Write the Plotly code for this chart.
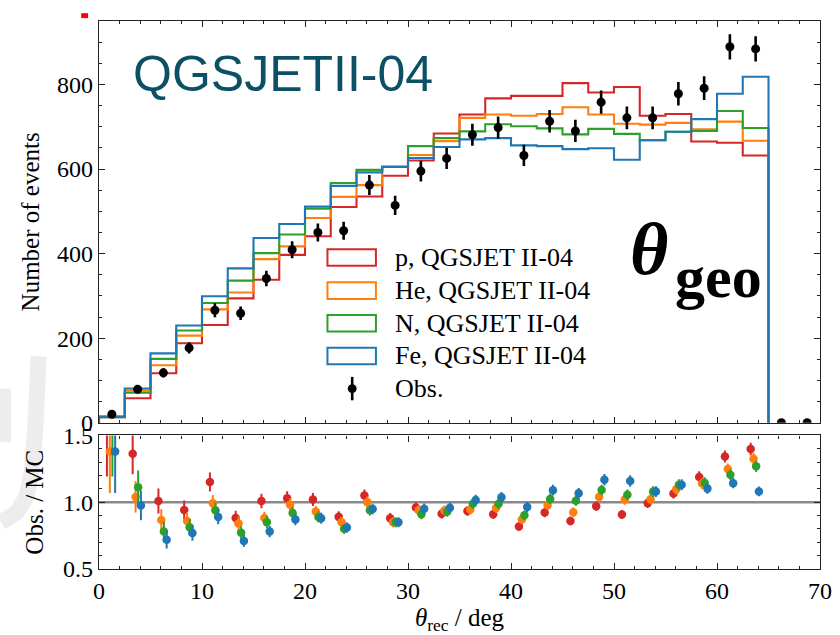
import numpy as np
import plotly.graph_objects as go

# ---------------- data ----------------
bin_edges = [0, 2.5, 5, 7.5, 10, 12.5, 15, 17.5, 20, 22.5, 25, 27.5, 30, 32.5,
             35, 37.5, 40, 42.5, 45, 47.5, 50, 52.5, 55, 57.5, 60, 62.5, 65]
obs_centers = [1.25, 3.75, 6.25, 8.75, 11.25, 13.75, 16.25, 18.75, 21.25, 23.75,
               26.25, 28.75, 31.25, 33.75, 36.25, 38.75, 41.25, 43.75, 46.25, 48.75,
               51.25, 53.75, 56.25, 58.75, 61.25, 63.75, 66.25, 68.75]
obs_counts = [20, 79, 118, 177, 266, 259, 341, 409, 450, 454, 562, 514, 595, 625,
              681, 698, 632, 713, 690, 758, 721, 721, 778, 791, 889, 884, 0, 0]
obs_errors = [4.5, 8.9, 10.9, 13.3, 16.3, 16.1, 18.5, 20.2, 21.2, 21.3, 23.7, 22.7,
              24.4, 25.0, 26.1, 26.4, 25.1, 26.7, 26.3, 27.5, 26.9, 26.9, 27.9, 28.1,
              29.8, 29.7, 0, 0]

mc_p = [13, 58, 117, 188, 231, 294, 338, 397, 441, 510, 535, 584, 620, 684,
        729, 767, 773, 773, 803, 781, 794, 726, 730, 665, 662, 632]
mc_he = [14.5, 76, 136, 206, 268, 308, 387, 417, 484, 534, 562, 605, 633, 666,
         721, 729, 726, 730, 746, 729, 707, 705, 709, 694, 712, 667]
mc_n = [13, 71, 151, 218, 283, 336, 401, 445, 506, 567, 598, 605, 654, 673,
        689, 706, 701, 696, 682, 695, 683, 668, 688, 690, 737, 697]
mc_fe = [14.5, 81, 164, 230, 299, 365, 437, 470, 511, 560, 592, 605, 626, 652,
         670, 673, 656, 654, 647, 649, 622, 668, 688, 718, 778, 818]

series_names = ["p, QGSJET II-04", "He, QGSJET II-04", "N, QGSJET II-04", "Fe, QGSJET II-04"]
series_values = [mc_p, mc_he, mc_n, mc_fe]
series_colors = ["#d62728", "#ff7f0e", "#2ca02c", "#1f77b4"]
ratio_offsets = [-0.48, -0.2, 0.05, 0.32]

x_ticks = [0, 10, 20, 30, 40, 50, 60, 70]
y_ticks_top = [0, 200, 400, 600, 800]
y_ticks_ratio = [0.5, 1.0, 1.5]

# ---------------- layout geometry (pixels) ----------------
W, H = 840, 635
L, R, T, B = 99, 828, 8, 570
TOP_BOTTOM_PX = 420
RATIO_TOP_PX = 433


def px(x):
    return (x - L) / (R - L)


def py(y):
    return (B - y) / (B - T)


SERIF = "Liberation Serif"
TICK_SIZE = 24
TITLE_SIZE = 25
LEG_SIZE = 26

fig = go.Figure()

# histograms (step)
n_mc = len(bin_edges) - 1
for name, vals, col in zip(series_names, series_values, series_colors):
    xs = [bin_edges[0]] + bin_edges[:-1] + [bin_edges[-1]]
    ys = [0] + list(vals) + [0]
    fig.add_trace(go.Scatter(x=xs, y=ys, mode="lines", line=dict(color=col, width=2.1, shape="hv"),
                             name=name, showlegend=False, xaxis="x", yaxis="y",
                             hoverinfo="skip"))

# observed points
fig.add_trace(go.Scatter(x=obs_centers, y=obs_counts, mode="markers",
                         marker=dict(color="black", size=9),
                         error_y=dict(type="data", array=obs_errors, visible=True,
                                      color="black", thickness=2.6, width=0),
                         name="Obs.", showlegend=False, xaxis="x", yaxis="y"))

# ratio points
obs_arr = np.array(obs_counts[:n_mc], dtype=float)
err_arr = np.array(obs_errors[:n_mc], dtype=float)
cent_arr = np.array(obs_centers[:n_mc], dtype=float)
for name, vals, col, off in zip(series_names, series_values, series_colors, ratio_offsets):
    mc = np.array(vals, dtype=float)
    fig.add_trace(go.Scatter(x=cent_arr + off, y=obs_arr / mc, mode="markers",
                             marker=dict(color=col, size=8.5),
                             error_y=dict(type="data", array=err_arr / mc, visible=True,
                                          color=col, thickness=2, width=0),
                             showlegend=False, xaxis="x2", yaxis="y2"))

axis_common = dict(showline=True, linecolor="#222", linewidth=1.3, mirror="allticks",
                   ticks="inside", ticklen=6, tickwidth=1.1, tickcolor="#222",
                   showgrid=False, zeroline=False,
                   tickfont=dict(family=SERIF, size=TICK_SIZE, color="black"))
minor_common = dict(ticks="inside", ticklen=3, tickcolor="#222", tickwidth=1)

fig.update_layout(
    width=W, height=H,
    margin=dict(l=L, r=W - R, t=T, b=H - B),
    paper_bgcolor="white", plot_bgcolor="white",
    showlegend=False,
    xaxis=dict(domain=[0, 1], range=[0, 70], anchor="y", matches="x2",
               tickvals=x_ticks, showticklabels=False,
               minor=dict(dtick=2, **minor_common), **axis_common),
    yaxis=dict(domain=[py(TOP_BOTTOM_PX), 1], range=[0, 950], anchor="x",
               tickvals=y_ticks_top,
               minor=dict(dtick=50, **minor_common),
               title=dict(text="Number of events",
                          font=dict(family=SERIF, size=TITLE_SIZE, color="black"),
                          standoff=10),
               **axis_common),
    xaxis2=dict(domain=[0, 1], range=[0, 70], anchor="y2",
                tickvals=x_ticks,
                minor=dict(dtick=2, **minor_common),
                title=dict(text="<i>θ</i><sub>rec</sub> / deg",
                           font=dict(family=SERIF, size=TITLE_SIZE, color="black"),
                           standoff=6),
                **axis_common),
    yaxis2=dict(domain=[0, py(RATIO_TOP_PX)], range=[0.5, 1.5], anchor="x2",
                tickvals=y_ticks_ratio, tickformat=".1f",
                minor=dict(dtick=0.1, **minor_common),
                title=dict(text="Obs. / MC", font=dict(family=SERIF, size=TITLE_SIZE, color="black"),
                           standoff=12),
                **axis_common),
)

shapes = []
# reference line at ratio 1
shapes.append(dict(type="line", xref="x2 domain", yref="y2", x0=0, x1=1, y0=1, y1=1,
                   line=dict(color="#8a8a8a", width=2.5), layer="below"))

# custom legend (matplotlib-style boxes)
box_x0, box_x1 = 330, 379
row_centers = [250.5, 284.5, 318, 351.5]
annotations = []
for name, col, yc in zip(series_names, series_colors, row_centers):
    shapes.append(dict(type="rect", xref="paper", yref="paper",
                       x0=px(box_x0), x1=px(box_x1), y0=py(yc + 8.5), y1=py(yc - 8.5),
                       line=dict(color=col, width=2), fillcolor="rgba(0,0,0,0)"))
    annotations.append(dict(text=name, xref="paper", yref="paper", x=px(396), y=py(yc),
                            xanchor="left", yanchor="middle", showarrow=False,
                            font=dict(family=SERIF, size=LEG_SIZE, color="black")))
obs_y = 385
shapes.append(dict(type="line", xref="paper", yref="paper", x0=px(355), x1=px(355),
                   y0=py(obs_y + 12), y1=py(obs_y - 12), line=dict(color="black", width=2.6)))
shapes.append(dict(type="circle", xref="paper", yref="paper", x0=px(350.5), x1=px(359.5),
                   y0=py(obs_y + 4.5), y1=py(obs_y - 4.5), fillcolor="black",
                   line=dict(color="black", width=0)))
annotations.append(dict(text="Obs.", xref="paper", yref="paper", x=px(396), y=py(obs_y),
                        xanchor="left", yanchor="middle", showarrow=False,
                        font=dict(family=SERIF, size=LEG_SIZE, color="black")))

# slide decorations
annotations.append(dict(text="QGSJETII-04", xref="paper", yref="paper", x=px(131), y=py(62),
                        xanchor="left", yanchor="middle", showarrow=False,
                        font=dict(family="Liberation Sans", size=50, color="#0c5066")))
annotations.append(dict(text="<b><i>θ</i></b>", xref="paper", yref="paper",
                        x=px(676), y=py(242), xanchor="right", yanchor="middle", showarrow=False,
                        font=dict(family=SERIF, size=74, color="black")))
annotations.append(dict(text="<b>geo</b>", xref="paper", yref="paper",
                        x=px(679), y=py(271), xanchor="left", yanchor="middle", showarrow=False,
                        font=dict(family=SERIF, size=60, color="black")))
shapes.append(dict(type="rect", xref="paper", yref="paper", x0=px(81), x1=px(88),
                   y0=py(5), y1=py(0), fillcolor="red", line=dict(width=0)))


def ppath(points):
    s = "M{:.4f},{:.4f}".format(px(points[0][0]), py(points[0][1]))
    for (xx, yy) in points[1:]:
        s += " L{:.4f},{:.4f}".format(px(xx), py(yy))
    return s


shapes.append(dict(type="path", xref="paper", yref="paper",
                   path=ppath([(38, 352), (35, 420), (31, 470), (26, 495), (16, 512), (0, 522)]),
                   line=dict(color="#ededed", width=16)))
shapes.append(dict(type="path", xref="paper", yref="paper",
                   path=ppath([(4, 385), (4, 440)]),
                   line=dict(color="#ededed", width=12)))

fig.update_layout(shapes=shapes, annotations=annotations)

fig.write_html("out.html", config={"displayModeBar": False},
               post_script="document.body.style.margin='0';document.body.style.padding='0';"
                           "document.documentElement.style.overflow='hidden';")
